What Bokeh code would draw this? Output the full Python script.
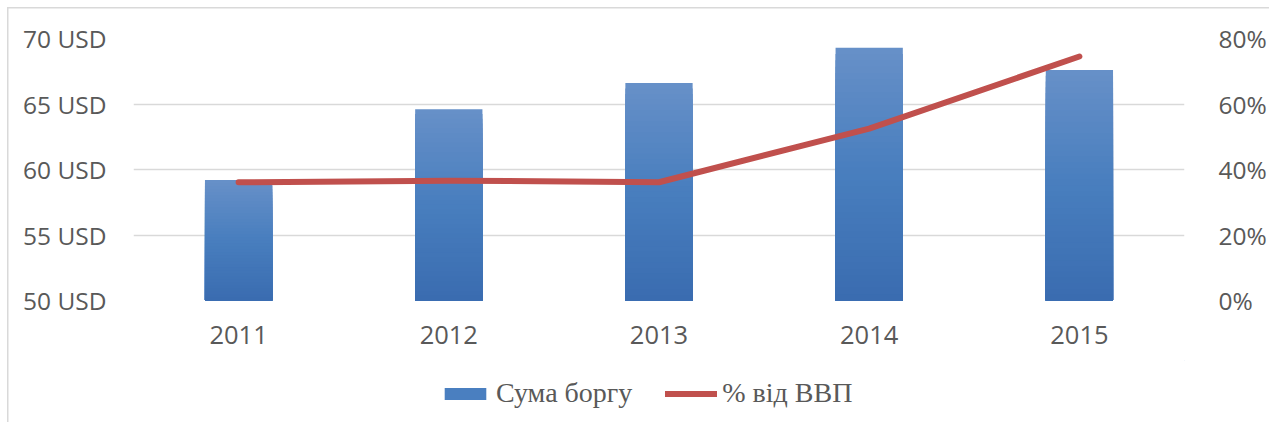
from bokeh.plotting import figure
from bokeh.layouts import column
from bokeh.models import (Range1d, FactorRange, LinearAxis, FixedTicker, PrintfTickFormatter,
                          Legend, LegendItem, ColumnDataSource)
from bokeh.embed import file_html
from bokeh.resources import INLINE

years = ["2011", "2012", "2013", "2014", "2015"]
debt_usd = [59.2, 64.6, 66.6, 69.3, 67.6]
pct_gdp = [36.1, 36.6, 36.1, 52.5, 74.5]
left_ticks = [50, 55, 60, 65, 70]
right_ticks = [0, 20, 40, 60, 80]
legend_labels = ["Сума боргу", "% від ВВП"]

TEXT = "#595959"
GRID = "#d9d9d9"
RED = "#c0504d"
BLUE = "#4a7fc0"

W, H1, H2 = 1269, 360, 62
p = figure(width=W, height=H1, output_backend="svg", toolbar_location=None,
           x_range=FactorRange(factors=years, range_padding=0),
           y_range=Range1d(50, 70),
           min_border_left=133, min_border_right=84, min_border_top=38, min_border_bottom=60)
p.extra_y_ranges = {"pct": Range1d(0, 80)}
p.outline_line_color = None
p.background_fill_color = "white"
p.border_fill_alpha = 0

# gradient bars (overlapping slices, lighter at the top)
top_c = (103, 144, 200)
mid_c = (72, 126, 190)
bot_c = (58, 108, 176)
def grad(t):
    if t >= 0.5:
        a, b, u = mid_c, top_c, (t - 0.5) / 0.5
    else:
        a, b, u = bot_c, mid_c, t / 0.5
    return "#%02x%02x%02x" % tuple(int(round(a[i] + (b[i] - a[i]) * u)) for i in range(3))

N = 40
xs, tops, cols = [], [], []
for k in range(N, 0, -1):
    t = k / N
    for y, v in zip(years, debt_usd):
        xs.append(y)
        tops.append(50 + (v - 50) * t)
        cols.append(grad(t - 0.5 / N))
src = ColumnDataSource(dict(x=xs, top=tops, color=cols))
p.vbar(x="x", top="top", bottom=50, width=0.32, fill_color="color", line_color=None, source=src)

p.line(years, pct_gdp, y_range_name="pct", line_color=RED, line_width=6,
       line_cap="round", line_join="round")

# axes
p.yaxis.ticker = FixedTicker(ticks=left_ticks)
p.yaxis.formatter = PrintfTickFormatter(format="%d USD")
ra = LinearAxis(y_range_name="pct", ticker=FixedTicker(ticks=right_ticks),
                formatter=PrintfTickFormatter(format="%d%%"))
p.add_layout(ra, "right")
for ax in [p.yaxis[0], ra, p.xaxis[0]]:
    ax.axis_line_color = None
    ax.major_tick_line_color = None
    ax.minor_tick_line_color = None
    ax.major_label_text_font = "Open Sans"
    ax.major_label_text_font_size = "24.5px"
    ax.major_label_text_color = TEXT
p.xaxis[0].major_label_text_font_size = "25.5px"
p.yaxis[0].major_label_standoff = 21
ra.major_label_standoff = 28
p.xaxis[0].major_label_standoff = 19

p.xgrid.grid_line_color = None
p.ygrid.grid_line_color = GRID
p.ygrid.grid_line_width = 1.5

# legend strip (frame aligned with the chart above)
q = figure(width=W, height=H2, output_backend="svg", toolbar_location=None,
           x_range=Range1d(0, 1), y_range=Range1d(0, 1),
           x_axis_location=None, y_axis_location=None,
           min_border_left=133, min_border_right=84, min_border_top=0, min_border_bottom=0)
q.grid.grid_line_color = None
q.outline_line_color = None
q.background_fill_alpha = 0
q.border_fill_alpha = 0
lb = q.vbar(x=[5], top=[5], bottom=[4], width=0.1, fill_color=BLUE, line_color=None)
ll = q.line(x=[5, 6], y=[5, 6], line_color=RED, line_width=6, line_cap="round")
legend = Legend(items=[LegendItem(label=legend_labels[0], renderers=[lb]),
                       LegendItem(label=legend_labels[1], renderers=[ll])],
                orientation="horizontal", location=(306, 13),
                glyph_width=52, glyph_height=15, label_standoff=5, spacing=33,
                padding=0, margin=0, border_line_color=None, background_fill_alpha=0,
                label_text_font="Liberation Serif", label_text_font_size="28px",
                label_text_color=TEXT)
q.add_layout(legend, "center")

layout = column(p, q, spacing=0,
                styles={"background": "white",
                        "box-shadow": "inset 3.5px 3.5px 0 3.5px white, inset 4.25px 4.25px 0 4.25px #d9d9d9"})

open("out.html", "w").write(file_html(layout, INLINE))
